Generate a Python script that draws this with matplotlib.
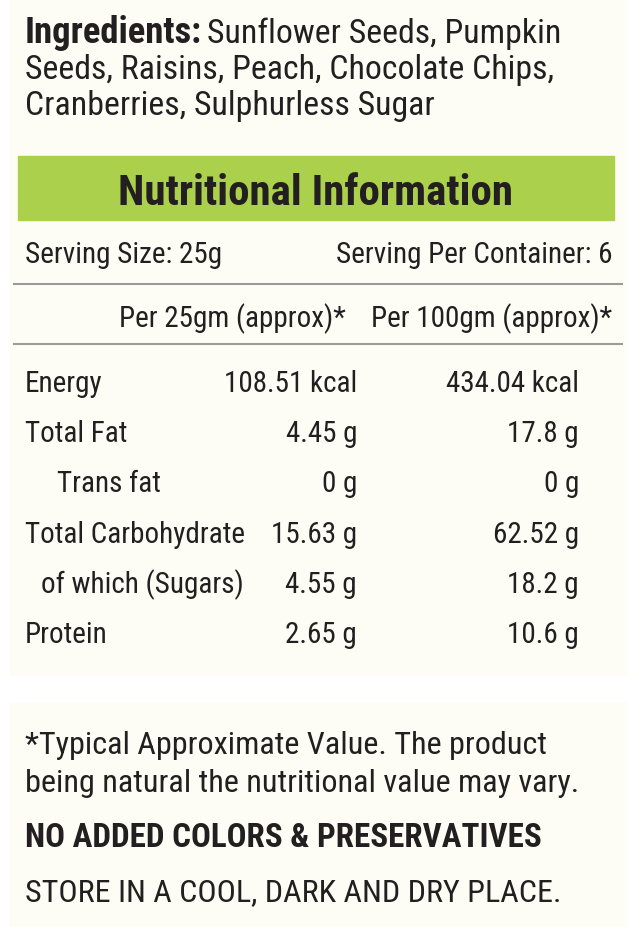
import matplotlib.pyplot as plt
from matplotlib.patches import Rectangle

plt.rcParams['font.family'] = ['Roboto Condensed', 'Liberation Sans Narrow', 'DejaVu Sans']

# label data
ingredients = ["Sunflower Seeds, Pumpkin",
               "Seeds, Raisins, Peach, Chocolate Chips,",
               "Cranberries, Sulphurless Sugar"]
nutrients = ["Energy", "Total Fat", "Trans fat", "Total Carbohydrate",
             "of which (Sugars)", "Protein"]
per_25g = ["108.51 kcal", "4.45 g", "0 g", "15.63 g", "4.55 g", "2.65 g"]
per_100g = ["434.04 kcal", "17.8 g", "0 g", "62.52 g", "18.2 g", "10.6 g"]
serving_size = "25g"
servings = "6"

indent = [0, 0, 32, 0, 16, 0]

ink = "#231f20"
cream = "#fdfdf5"
green = "#abd04b"

fig = plt.figure(figsize=(6.36, 9.28), dpi=100)
ax = fig.add_axes([0, 0, 1, 1])
ax.set_xlim(0, 636)
ax.set_ylim(928, 0)
ax.axis("off")

# background panels
ax.add_patch(Rectangle((10, 0), 616, 676, color=cream, zorder=0))
ax.add_patch(Rectangle((10, 704), 616, 224, color=cream, zorder=0))

fs_ing = 24.3
fs_tab = 21

# ingredients
t = ax.text(25, 43, "Ingredients:", fontsize=26.5, weight="bold", color=ink, va="baseline")
fig.canvas.draw()
bb = t.get_window_extent()
x_after = ax.transData.inverted().transform((bb.x1, 0))[0]
ax.text(x_after + 5, 43, ingredients[0], fontsize=fs_ing, color=ink, va="baseline")
for i, line in enumerate(ingredients[1:]):
    ax.text(25, 79 + 36 * i, line, fontsize=fs_ing, color=ink, va="baseline")

# header
ax.add_patch(Rectangle((18, 157), 596, 64, color=green, zorder=1))
ax.text(316, 205, "Nutritional Information", fontsize=31, weight="bold",
        color=ink, ha="center", va="baseline", zorder=2)

ax.text(25, 263, f"Serving Size: {serving_size}", fontsize=fs_tab, color=ink, va="baseline")
ax.text(612, 263, f"Serving Per Container: {servings}", fontsize=fs_tab, color=ink,
        ha="right", va="baseline")
ax.plot([14, 622], [285, 285], color="#9b9b9b", lw=1.5)

ax.text(346, 327, "Per 25gm (approx)*", fontsize=fs_tab, color=ink, ha="right", va="baseline")
ax.text(612, 327, "Per 100gm (approx)*", fontsize=fs_tab, color=ink, ha="right", va="baseline")
ax.plot([14, 622], [345, 345], color="#9b9b9b", lw=1.5)

for i, name in enumerate(nutrients):
    y = 392 + 50.2 * i
    ax.text(25 + indent[i], y, name, fontsize=fs_tab, color=ink, va="baseline")
    ax.text(357, y, per_25g[i], fontsize=fs_tab, color=ink, ha="right", va="baseline")
    ax.text(579, y, per_100g[i], fontsize=fs_tab, color=ink, ha="right", va="baseline")

# footer
ax.text(25, 754, "*Typical Approximate Value. The product", fontsize=23.2, color=ink, va="baseline")
ax.text(25, 792, "being natural the nutritional value may vary.", fontsize=23.2, color=ink, va="baseline")
ax.text(25, 847, "NO ADDED COLORS & PRESERVATIVES", fontsize=23.8, weight="bold", color=ink, va="baseline")
ax.text(25, 901, "STORE IN A COOL, DARK AND DRY PLACE.", fontsize=23, color=ink, va="baseline")

fig.savefig("out.png", dpi=100, facecolor="white")
